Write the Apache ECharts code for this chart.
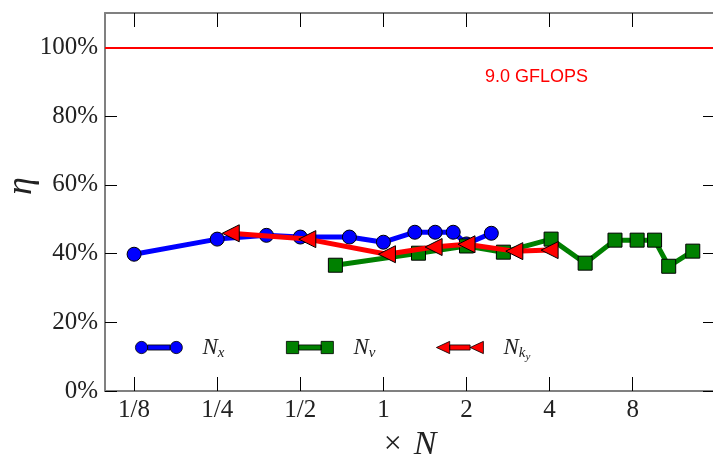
<!DOCTYPE html>
<html>
<head>
<meta charset="utf-8">
<script src="https://cdn.jsdelivr.net/npm/echarts@6/dist/echarts.min.js"></script>
<style>
  html, body { margin: 0; padding: 0; background: #fff; }
  #chart { width: 713px; height: 457px; }
</style>
</head>
<body>
<div id="chart"></div>
<script>
// multiples of N (x) and efficiency in % (y)
var nxN   = [0.125, 0.25, 0.377, 0.5, 0.753, 1.0, 1.3, 1.54, 1.79, 2.0, 2.46];
var nxEta = [39.8, 44.2, 45.3, 44.8, 44.8, 43.3, 46.2, 46.2, 46.2, 42.8, 45.9];
var nvN   = [0.67, 1.34, 2.0, 2.72, 4.05, 5.38, 6.9, 8.3, 9.6, 10.8, 13.2];
var nvEta = [36.6, 40.1, 42.2, 40.4, 44.2, 37.2, 43.9, 43.9, 43.9, 36.3, 40.7];
var nkN   = [0.28, 0.53, 1.03, 1.52, 2.0, 2.98, 4.0];
var nkEta = [45.9, 44.2, 39.8, 41.9, 42.7, 40.7, 41.0];

var xTickExp   = [-3, -2, -1, 0, 1, 2, 3];
var xTickNames = ['1/8', '1/4', '1/2', '1', '2', '4', '8'];
var yTicks     = [0, 20, 40, 60, 80, 100];
var peakLabel  = '9.0 GFLOPS';

function toPairs(xs, ys) {
    return xs.map(function (v, i) { return [Math.log2(v), ys[i]]; });
}

var serif = 'Liberation Serif';
var triLeft = 'path://M0,6L12,0L12,12Z';

var icons = {
    Nx: 'path://M0,6a6,6 0 1,0 12,0a6,6 0 1,0 -12,0zM12,3.5h22v5h-22zM34,6a6,6 0 1,0 12,0a6,6 0 1,0 -12,0z',
    Nv: 'path://M0,0h12v12h-12zM12,3.5h22v5h-22zM34,0h12v12h-12z',
    Nk: 'path://M0,6L13,0L13,12ZM13,3.5h20v5h-20zM33,6L46,0L46,12Z'
};

var legendRich = {
    n: { fontFamily: serif, fontStyle: 'italic', fontSize: 23, color: '#222' },
    s: { fontFamily: serif, fontStyle: 'italic', fontSize: 15, color: '#222', padding: [12, 0, 0, 0] },
    ss: { fontFamily: serif, fontStyle: 'italic', fontSize: 11, color: '#222', padding: [20, 0, 0, 0] }
};

function legendAt(name, left) {
    return {
        data: [{ name: name, icon: icons[name] }],
        left: left,
        top: 331,
        itemWidth: 47,
        itemHeight: 14,
        selectedMode: false,
        itemStyle: { borderColor: '#000', borderWidth: 0.8 },
        textStyle: { padding: [0, 0, 0, 15], rich: legendRich },
        formatter: function (n) {
            if (n === 'Nx') return '{n|N}{s|x}';
            if (n === 'Nv') return '{n|N}{s|v}';
            return '{n|N}{s|k}{ss|y}';
        }
    };
}

var frameLine = { show: true, onZero: false, lineStyle: { color: '#808080', width: 2 } };

var myChart = echarts.init(document.getElementById('chart'));
var option = {
    animation: false,
    title: {
        text: peakLabel,
        left: 480,
        top: 63,
        textStyle: { color: '#ff0000', fontFamily: 'Liberation Sans', fontWeight: 'normal', fontSize: 18 }
    },
    // y axis title, rotated like the reference
    graphic: [{
        type: 'text',
        x: 22,
        y: 186,
        rotation: Math.PI / 2,
        style: {
            text: 'η',
            fontFamily: serif, fontStyle: 'italic', fontSize: 36, fill: '#222',
            align: 'center', verticalAlign: 'middle'
        }
    }],
    legend: [legendAt('Nx', 130), legendAt('Nv', 281), legendAt('Nk', 431)],
    grid: { left: 105, top: 13, right: -2, bottom: 66, outerBoundsMode: 'none', containLabel: false },
    xAxis: [{
        type: 'value',
        min: -3.35,
        max: 3.99,
        name: '{a|×}{b|N}',
        nameLocation: 'middle',
        nameGap: 36,
        nameTextStyle: {
            rich: {
                a: { fontFamily: serif, fontSize: 32, color: '#222', padding: [0, 12, 0, 0] },
                b: { fontFamily: serif, fontStyle: 'italic', fontSize: 34, color: '#222' }
            }
        },
        splitLine: { show: false },
        axisLine: frameLine,
        axisTick: { inside: true, length: 14, customValues: xTickExp, lineStyle: { color: '#000', width: 1 } },
        axisLabel: {
            customValues: xTickExp,
            margin: 7,
            fontFamily: serif, fontSize: 25, color: '#222',
            formatter: function (v) { return xTickNames[xTickExp.indexOf(Math.round(v))]; }
        }
    }, {
        type: 'value',
        position: 'top',
        min: -3.35,
        max: 3.99,
        splitLine: { show: false },
        axisLine: frameLine,
        axisTick: { show: true, inside: true, length: 14, customValues: xTickExp, lineStyle: { color: '#000', width: 1 } },
        axisLabel: { show: false }
    }],
    yAxis: [{
        type: 'value',
        min: 0,
        max: 110,
        splitLine: { show: false },
        axisLine: frameLine,
        axisTick: { inside: true, length: 12, customValues: yTicks, lineStyle: { color: '#000', width: 1 } },
        axisLabel: {
            customValues: yTicks,
            margin: 7,
            fontFamily: serif, fontSize: 25, color: '#222',
            formatter: function (v) { return v + '%'; }
        }
    }, {
        type: 'value',
        position: 'right',
        min: 0,
        max: 110,
        splitLine: { show: false },
        axisLine: frameLine,
        axisTick: { show: true, inside: true, length: 12, customValues: yTicks, lineStyle: { color: '#000', width: 1 } },
        axisLabel: { show: false }
    }],
    series: [{
        name: 'Nx',
        type: 'line',
        data: toPairs(nxN, nxEta),
        color: '#0000ff',
        lineStyle: { width: 5, color: '#0000ff' },
        symbol: 'circle',
        symbolSize: 14,
        itemStyle: { color: '#0000ff', borderColor: '#000', borderWidth: 1 },
        markLine: {
            silent: true,
            symbol: 'none',
            label: { show: false },
            lineStyle: { color: '#ff0000', width: 2, type: 'solid' },
            data: [{ yAxis: 100 }]
        },
        z: 3
    }, {
        name: 'Nv',
        type: 'line',
        data: toPairs(nvN, nvEta),
        color: '#008000',
        lineStyle: { width: 5, color: '#008000' },
        symbol: 'rect',
        symbolSize: 14,
        itemStyle: { color: '#008000', borderColor: '#000', borderWidth: 1 },
        z: 4
    }, {
        name: 'Nk',
        type: 'line',
        data: toPairs(nkN, nkEta),
        color: '#ff0000',
        lineStyle: { width: 5, color: '#ff0000' },
        symbol: triLeft,
        symbolSize: [17, 17],
        itemStyle: { color: '#ff0000', borderColor: '#000', borderWidth: 1 },
        z: 5
    }]
};
myChart.setOption(option);
</script>
</body>
</html>
